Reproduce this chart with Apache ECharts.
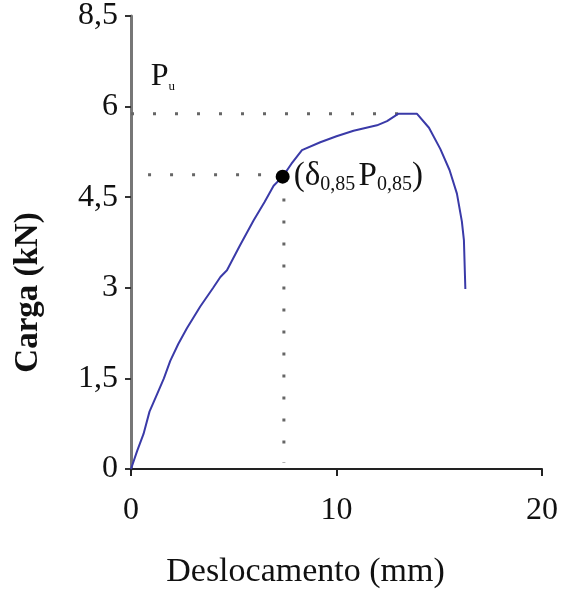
<!DOCTYPE html>
<html>
<head>
<meta charset="utf-8">
<script src="https://cdn.jsdelivr.net/npm/echarts@6/dist/echarts.min.js"></script>
<style>
  html, body { margin: 0; padding: 0; background: #fff; }
  #chart { width: 561px; height: 594px; }
</style>
</head>
<body>
<div id="chart"></div>
<script>
// load-displacement curve (mm, kN)
const curve = [
  [0, 0], [0.3, 0.3], [0.61, 0.58], [0.9, 0.95], [1.27, 1.24], [1.6, 1.5],
  [1.91, 1.79], [2.3, 2.07], [2.72, 2.33], [3.37, 2.69], [4.0, 3.0], [4.35, 3.18],
  [4.67, 3.29], [5.3, 3.7], [5.97, 4.12], [6.5, 4.42], [6.94, 4.69], [7.38, 4.84],
  [7.8, 5.05], [8.32, 5.28], [9.21, 5.41], [10.0, 5.51], [10.83, 5.6], [11.97, 5.69],
  [12.46, 5.76], [13.0, 5.88], [13.92, 5.88], [14.5, 5.65], [15.05, 5.3], [15.5, 4.95],
  [15.86, 4.56], [16.1, 4.1], [16.2, 3.79], [16.27, 2.98],
];
const point085 = [7.38, 4.84];
const puGuide = [[0, 5.88], [13.0, 5.88]];
const p085Guide = [[0.83, 4.87], [6.9, 4.87]];
const d085Guide = [[7.44, 4.48], [7.44, 0.1]];
const puLabelPos = [1.55, 6.5];

const xTicks = [0, 10, 20];
const yTickLabels = ['0', '1,5', '3', '4,5', '6', '8,5'];
const yStep = 1.5;

const serif = 'Liberation Serif';
const chart = echarts.init(document.getElementById('chart'));

const guide = (data) => ({
  type: 'line',
  data,
  symbol: 'none',
  silent: true,
  lineStyle: { color: '#666', width: 3, type: [3, 19] },
  z: 1,
});

chart.setOption({
  animation: false,
  grid: { left: 131, right: 19, top: 15, bottom: 122 },
  xAxis: {
    type: 'value',
    min: xTicks[0],
    max: xTicks[xTicks.length - 1],
    interval: 10,
    name: 'Deslocamento (mm)',
    nameLocation: 'middle',
    nameGap: 86,
    nameTextStyle: { fontFamily: serif, fontSize: 34, color: '#111', padding: [0, 62, 0, 0] },
    axisLine: { lineStyle: { color: '#222', width: 2 } },
    axisTick: { show: true, length: 7, lineStyle: { color: '#222', width: 2 } },
    axisLabel: { fontFamily: serif, fontSize: 32, color: '#111', margin: 26 },
    splitLine: { show: false },
  },
  yAxis: {
    type: 'value',
    min: 0,
    max: yStep * (yTickLabels.length - 1),
    interval: yStep,
    name: 'Carga (kN)',
    nameLocation: 'middle',
    nameGap: 86,
    nameTextStyle: { fontFamily: serif, fontSize: 33, fontWeight: 'bold', color: '#111', padding: [0, 100, 0, 0] },
    axisLine: { show: true, lineStyle: { color: '#777', width: 3 } },
    axisTick: { show: true, length: 6, lineStyle: { color: '#333', width: 2 } },
    axisLabel: {
      fontFamily: serif, fontSize: 32, color: '#111', margin: 13,
      formatter: (v) => yTickLabels[Math.round(v / yStep)],
    },
    splitLine: { show: false },
  },
  series: [
    guide(puGuide),
    guide(p085Guide),
    guide(d085Guide),
    {
      type: 'line',
      data: curve,
      symbol: 'none',
      lineStyle: { color: '#3a3aa8', width: 2 },
      z: 3,
    },
    {
      type: 'scatter',
      data: [point085],
      symbolSize: 14,
      itemStyle: { color: '#000', opacity: 1 },
      z: 4,
      label: {
        show: true,
        position: 'right',
        distance: 4,
        formatter: '{m|(δ}{s|0,85} {m|P}{s|0,85}{m|)}',
        rich: {
          m: { fontFamily: serif, fontSize: 33, color: '#111', lineHeight: 36 },
          s: { fontFamily: serif, fontSize: 20, color: '#111', lineHeight: 36, verticalAlign: 'bottom' },
        },
      },
    },
    {
      type: 'scatter',
      data: [puLabelPos],
      symbolSize: 0,
      silent: true,
      itemStyle: { opacity: 1 },
      label: {
        show: true,
        position: 'inside',
        formatter: '{m|P}{s|u}',
        rich: {
          m: { fontFamily: serif, fontSize: 32, color: '#111', lineHeight: 34 },
          s: { fontFamily: serif, fontSize: 13, color: '#111', lineHeight: 34, verticalAlign: 'bottom' },
        },
      },
    },
  ],
});
</script>
</body>
</html>
